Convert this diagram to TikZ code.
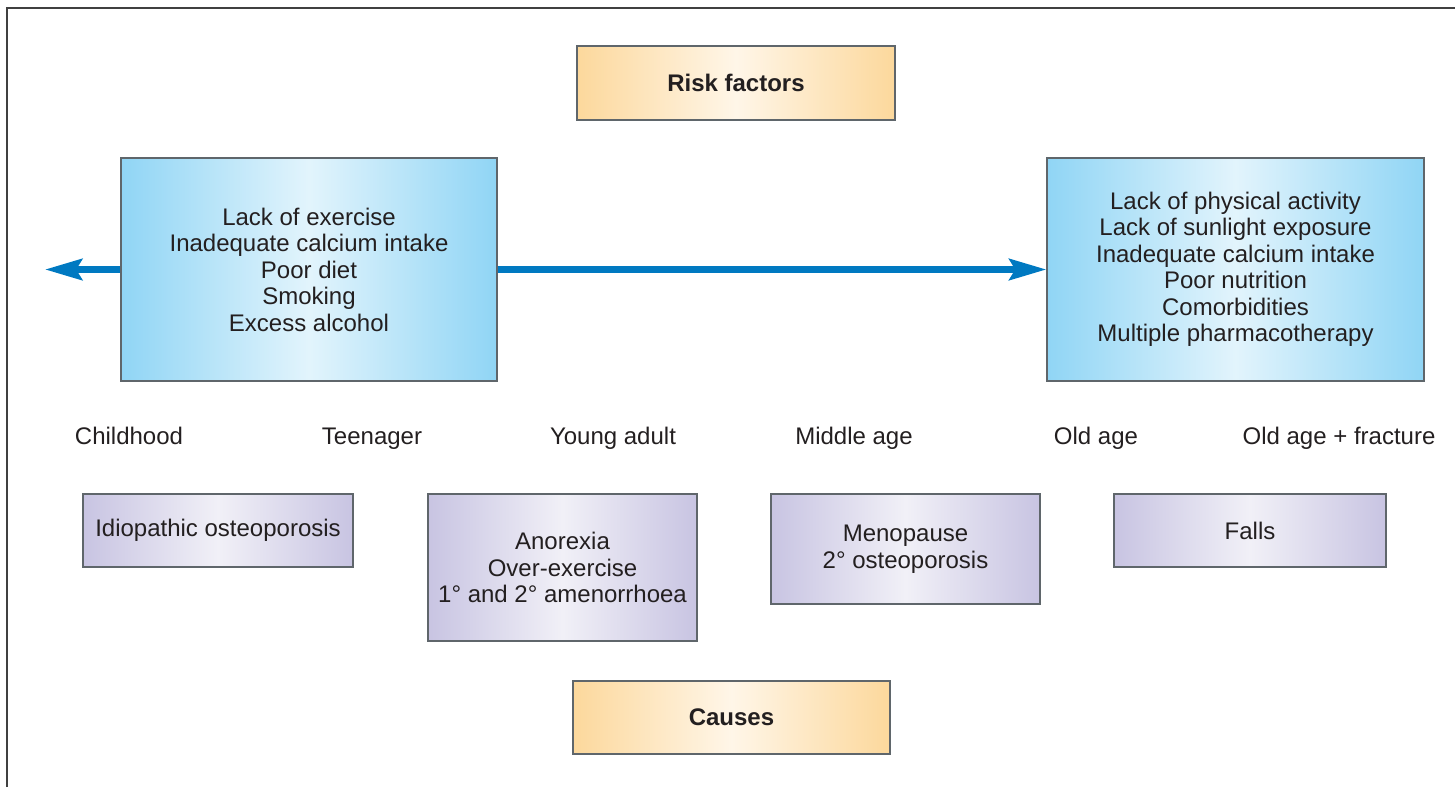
\documentclass[tikz,border=0pt]{standalone}
\usepackage{fontspec}
\setmainfont{Liberation Sans}
\usetikzlibrary{arrows.meta}

\definecolor{bordergray}{HTML}{5F666B}
\definecolor{orangeedge}{HTML}{FCD89C}
\definecolor{orangemid}{HTML}{FFF6E8}
\definecolor{blueedge}{HTML}{90D5F5}
\definecolor{bluemid}{HTML}{E2F4FC}
\definecolor{purpleedge}{HTML}{C8C4E2}
\definecolor{purplemid}{HTML}{F1F0F7}
\definecolor{arrowblue}{HTML}{0079C1}
\definecolor{textdark}{HTML}{231F20}

\tikzset{
  basebox/.style={draw=bordergray, line width=1.2pt, inner sep=0pt,
    align=center, text=textdark,
    font=\fontsize{24}{26.5}\selectfont},
  headerbox/.style={basebox, left color=orangeedge, right color=orangeedge,
    middle color=orangemid, font=\fontsize{24}{26.5}\selectfont\bfseries},
  riskbox/.style={basebox, left color=blueedge, right color=blueedge,
    middle color=bluemid},
  causebox/.style={basebox, left color=purpleedge, right color=purpleedge,
    middle color=purplemid},
  agelabel/.style={text=textdark, font=\fontsize{24}{26.5}\selectfont,
    inner sep=0pt, anchor=base},
  timeline/.style={draw=arrowblue, line width=7pt,
    -{Stealth[length=37pt, width=21pt, inset=6pt]}},
}

\begin{document}
\begin{tikzpicture}[x=1pt, y=-1pt]
  \useasboundingbox (0,0) rectangle (1455,787);

  % open frame: top and left edges
  \draw[line width=1.8pt, draw=black!75] (7,787) -- (7,8) -- (1455,8);

  % headings
  \node[headerbox, minimum width=318pt, minimum height=74pt] (risk) at (736,83) {Risk factors};
  \node[headerbox, minimum width=317pt, minimum height=73pt] (causes) at (731.5,717.5) {Causes};

  % risk factor boxes
  \node[riskbox, minimum width=376pt, minimum height=223pt] (lb) at (309,269.5)
    {Lack of exercise\\Inadequate calcium intake\\Poor diet\\Smoking\\Excess alcohol};
  \node[riskbox, minimum width=377pt, minimum height=223pt] (rb) at (1235.5,269.5)
    {Lack of physical activity\\Lack of sunlight exposure\\Inadequate calcium intake\\Poor nutrition\\Comorbidities\\Multiple pharmacotherapy};

  % life-span arrow
  \coordinate (ltip) at (45,269.5);
  \draw[timeline] (lb.west) -- (ltip);
  \draw[timeline] (lb.east) -- (rb.west);

  % age labels
  \node[agelabel] (a1) at (129,444) {Childhood};
  \node[agelabel] (a2) at (372,444) {Teenager};
  \node[agelabel] (a3) at (613,444) {Young adult};
  \node[agelabel] (a4) at (854,444) {Middle age};
  \node[agelabel] (a5) at (1096,444) {Old age};
  \node[agelabel] (a6) at (1339,444) {Old age + fracture};

  % cause boxes
  \node[causebox, minimum width=270pt, minimum height=73pt] (c1) at (218,530.5)
    {Idiopathic osteoporosis};
  \node[causebox, minimum width=269pt, minimum height=147pt] (c2) at (562.5,567.5)
    {Anorexia\\Over-exercise\\1° and 2° amenorrhoea};
  \node[causebox, minimum width=269pt, minimum height=110pt] (c3) at (905.5,549)
    {Menopause\\2° osteoporosis};
  \node[causebox, minimum width=272pt, minimum height=73pt] (c4) at (1250,530.5)
    {Falls};
\end{tikzpicture}
\end{document}
